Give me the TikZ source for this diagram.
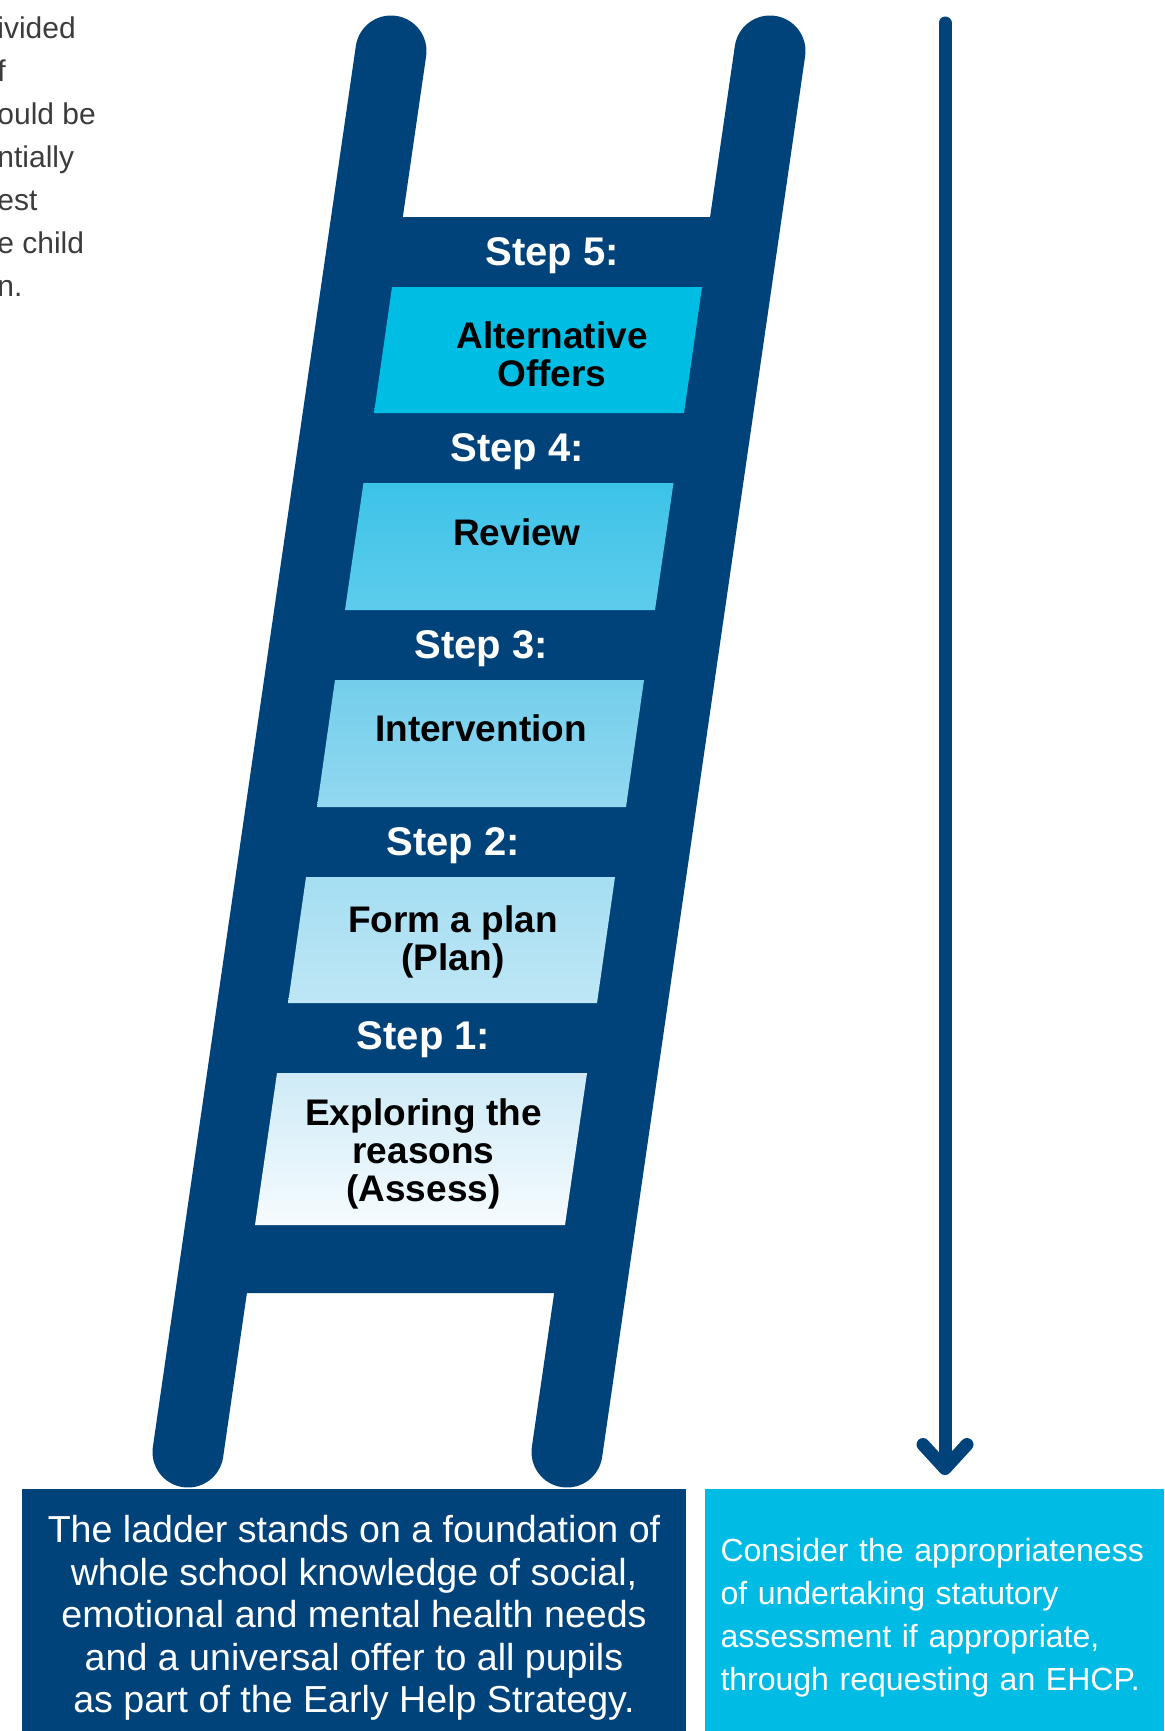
\documentclass[tikz,border=0pt]{standalone}
\usepackage{fontspec}
\setmainfont{Liberation Sans}
\usepackage{xcolor}
\usetikzlibrary{arrows.meta}
\definecolor{ladderblue}{RGB}{0,67,122}
\definecolor{ehcpcyan}{RGB}{0,188,228}
\definecolor{stepfivetop}{RGB}{0,189,228}
\definecolor{stepfivebot}{RGB}{0,189,228}
\definecolor{stepfourtop}{RGB}{60,195,232}
\definecolor{stepfourbot}{RGB}{94,204,236}
\definecolor{stepthreetop}{RGB}{115,206,235}
\definecolor{stepthreebot}{RGB}{146,216,240}
\definecolor{steptwotop}{RGB}{165,222,242}
\definecolor{steptwobot}{RGB}{190,230,245}
\definecolor{steponetop}{RGB}{206,235,247}
\definecolor{steponebot}{RGB}{246,251,254}
\definecolor{textgrey}{RGB}{60,60,60}

\begin{document}
\begin{tikzpicture}[x=0.5pt, y=-0.5pt,
		rail/.style={ladderblue, line width=35.5pt, line cap=round},
		steplabel/.style={text=white, inner sep=0, font=\fontsize{20}{22}\selectfont\bfseries},
		steptext/.style={text=black, align=center, inner sep=0, font=\fontsize{18.5}{19}\selectfont\bfseries},
		foundbox/.style={fill=ladderblue, text=white, align=center, inner sep=0, minimum width=332pt, minimum height=129pt, font=\fontsize{18.8}{21.25}\selectfont},
		ehcpbox/.style={fill=ehcpcyan, text=white, align=left, text width=214pt, inner xsep=7.75pt, inner ysep=0, minimum height=129pt, font=\fontsize{16}{21.5}\selectfont},
		sidetext/.style={text=textgrey, align=left, inner sep=0, font=\fontsize{15}{21.5}\selectfont},
		downarrow/.style={ladderblue, line width=6.5pt, line cap=round, -{Straight Barb[length=12pt, width=22pt, round]}}]
	    		\useasboundingbox (0,0) rectangle (1164,1731);
	    		\node[sidetext, anchor=west] (side) at (-3,157) {ivided\\f\\ould be\\ntially\\est\\e child\\n.};
	    		\fill[ladderblue] (367,217) -- (746,217) -- (590,1293) -- (211,1293) -- cycle;
	    		\draw[rail] (391,51) -- (188,1452);
	    		\draw[rail] (770,51) -- (567,1452);
	    		\shade[top color=stepfivetop, bottom color=stepfivebot] (392,287) -- (702,287) -- (684,413) -- (374,413) -- cycle;
	    		\shade[top color=stepfourtop, bottom color=stepfourbot] (363.5,483) -- (673.5,483) -- (655,610) -- (345,610) -- cycle;
	    		\shade[top color=stepthreetop, bottom color=stepthreebot] (335,680) -- (644,680) -- (626,807) -- (317,807) -- cycle;
	    		\shade[top color=steptwotop, bottom color=steptwobot] (306,877) -- (615,877) -- (597,1003) -- (288,1003) -- cycle;
	    		\shade[top color=steponetop, bottom color=steponebot] (277,1073) -- (587,1073) -- (565,1225) -- (255,1225) -- cycle;
	    		\node[steplabel] (step5) at (552,256) {Step 5:};
	    		\node[steplabel] (step4) at (517,452) {Step 4:};
	    		\node[steplabel] (step3) at (481,649) {Step 3:};
	    		\node[steplabel] (step2) at (453,846) {Step 2:};
	    		\node[steplabel] (step1) at (423.5,1040) {Step 1:};
	    		\node[steptext] (offers) at (552,354) {Alternative\\Offers};
	    		\node[steptext] (review) at (517,532) {Review};
	    		\node[steptext] (intervention) at (481,728) {Intervention};
	    		\node[steptext] (plan) at (453,942) {Form a plan\\(Plan)};
	    		\node[steptext] (assess) at (423.5,1154) {Exploring the\\reasons\\(Assess)};
	    		\node[foundbox] (found) at (354,1618) {The ladder stands on a foundation of\\whole school knowledge of social,\\emotional and mental health needs\\and a universal offer to all pupils\\as part of the Early Help Strategy.};
	    		\node[ehcpbox] (ehcp) at (934.5,1618) {Consider the appropriateness\\of undertaking statutory\\assessment if appropriate,\\through requesting an EHCP.};
	    		\coordinate (arrtop) at (945,23);
	    		\coordinate (arrtip) at (945,1475);
	    		\draw[downarrow] (arrtop) -- (arrtip);
	    	\end{tikzpicture}
\end{document}
